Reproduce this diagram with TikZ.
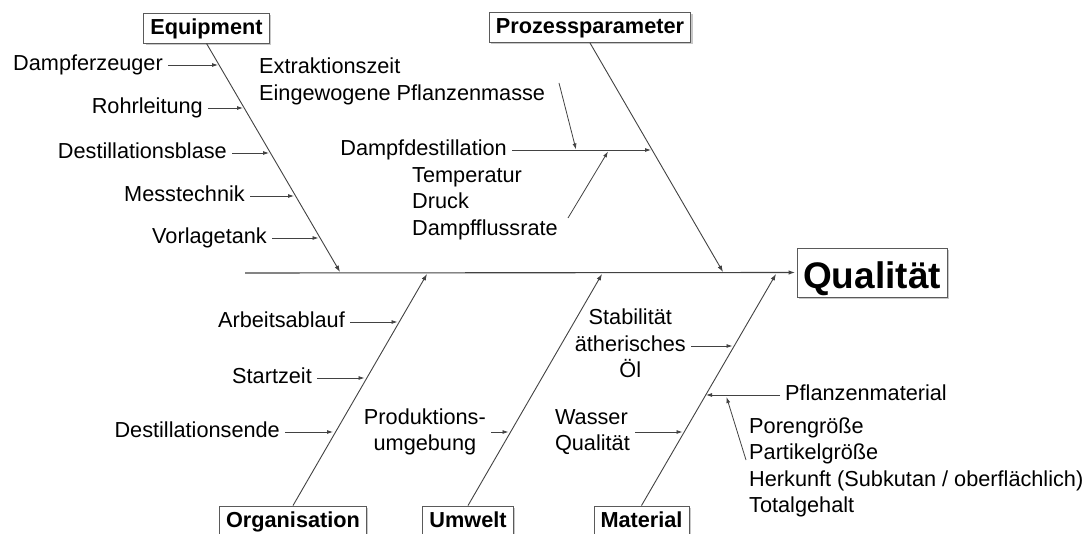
\documentclass[tikz,border=0pt]{standalone}
\usepackage{fontspec}
\setmainfont{Liberation Sans}
\usetikzlibrary{arrows.meta,shadows}
\definecolor{ln}{RGB}{66,66,66}
\definecolor{bx}{RGB}{90,90,90}
\definecolor{shd}{RGB}{200,200,200}
\tikzset{
  fs/.style={font=\fontsize{21.7}{26.5}\selectfont},
  bone/.style={draw=ln, line width=0.9pt, -{Latex[length=6.5pt,width=4.5pt]}},
  sub/.style={draw=ln, line width=0.8pt, -{Latex[length=6pt,width=4pt]}},
  lbl/.style={fs, inner xsep=5pt, inner ysep=0pt, text height=15.6pt, text depth=4.6pt},
  mlbl/.style={fs, inner xsep=5pt, inner ysep=0pt},
  cat/.style={draw=bx, line width=0.9pt, fill=white,
    font=\fontsize{21.7}{26}\selectfont\bfseries,
    inner xsep=6.5pt, inner ysep=0pt, minimum height=30pt,
    text height=16.5pt, text depth=4pt,
    drop shadow={shadow xshift=2pt, shadow yshift=-2pt, fill=shd, opacity=1}},
}
\begin{document}
\begin{tikzpicture}[x=1pt,y=-1pt]
\useasboundingbox (0,0) rectangle (1091,534);
\clip (0,0) rectangle (1091,534);

% effect
\node[cat, font=\fontsize{37}{40}\selectfont\bfseries, minimum width=150pt,
      minimum height=49pt, text height=31pt, text depth=0pt, inner xsep=5pt]
      (q) at (872,272.5) {Qualität};

% category boxes
\node[cat] (eq) at (206.5,28) {Equipment};
\node[cat] (pp) at (590,27.5) {Prozessparameter};
\node[cat] (org) at (293,521) {Organisation};
\node[cat] (umw) at (468,521) {Umwelt};
\node[cat] (mat) at (641.5,521) {Material};

% spine
\coordinate (s0) at (245,273);
\draw[bone, line width=1.1pt, shorten >=1.5pt] (s0) -- (q.west);

% bone tips on the spine
\coordinate (eqT) at (340,272);
\coordinate (ppT) at (723,272);
\coordinate (orgT) at (427,274);
\coordinate (umwT) at (602,274);
\coordinate (matT) at (776,274);

\draw[bone] (eq.south) -- (eqT);
\draw[bone] (pp.south) -- (ppT);
\draw[bone] (org.north) -- (orgT);
\draw[bone] (umw.north) -- (umwT);
\draw[bone] (mat.north) -- (matT);

% Equipment causes
\node[lbl, anchor=east] (e1) at (168,65) {Dampferzeuger};
\node[lbl, anchor=east] (e2) at (208,108) {Rohrleitung};
\node[lbl, anchor=east] (e3) at (232,153) {Destillationsblase};
\node[lbl, anchor=east] (e4) at (250,196) {Messtechnik};
\node[lbl, anchor=east] (e5) at (272,238) {Vorlagetank};
\coordinate (e1p) at (218,65);
\coordinate (e2p) at (243,108);
\coordinate (e3p) at (269,153);
\coordinate (e4p) at (294,196);
\coordinate (e5p) at (318.5,238);
\draw[sub] (e1.east) -- (e1p);
\draw[sub] (e2.east) -- (e2p);
\draw[sub] (e3.east) -- (e3p);
\draw[sub] (e4.east) -- (e4p);
\draw[sub] (e5.east) -- (e5p);

% Prozessparameter causes
\node[mlbl, anchor=west, align=left] (ext) at (254,81.5)
  {\strut Extraktionszeit\\Eingewogene Pflanzenmasse\strut};
\node[lbl, anchor=east] (dd) at (512,150) {Dampfdestillation};
\coordinate (ddp) at (651,150);
\draw[sub] (dd.east) -- (ddp);
\coordinate (extS) at (559,83);
\coordinate (extE) at (576,149.5);
\draw[sub] (extS) -- (extE);
\node[mlbl, anchor=west, align=left] (tdd) at (407,203.5)
  {\strut Temperatur\\Druck\\Dampfflussrate\strut};
\coordinate (tddS) at (568,218);
\coordinate (tddE) at (608,151.5);
\draw[sub] (tddS) -- (tddE);

% Organisation causes
\node[lbl, anchor=east] (o1) at (350,322) {Arbeitsablauf};
\node[lbl, anchor=east] (o2) at (317,378) {Startzeit};
\node[lbl, anchor=east] (o3) at (285,432) {Destillationsende};
\coordinate (o1p) at (397.5,322);
\coordinate (o2p) at (364.5,378);
\coordinate (o3p) at (333,432);
\draw[sub] (o1.east) -- (o1p);
\draw[sub] (o2.east) -- (o2p);
\draw[sub] (o3.east) -- (o3p);

% Umwelt causes
\node[mlbl, anchor=east, align=center] (u1) at (491,432)
  {\strut Produktions-\\umgebung\strut};
\coordinate (u1p) at (508.5,432);
\draw[sub] (u1.east) -- (u1p);

% Material causes
\node[mlbl, anchor=east, align=center] (m1) at (691,346)
  {\strut Stabilität\\ätherisches\\Öl\strut};
\coordinate (m1p) at (732.5,346);
\draw[sub] (m1.east) -- (m1p);
\node[mlbl, anchor=east, align=left] (m2) at (635,432)
  {\strut Wasser\\Qualität\strut};
\coordinate (m2p) at (682.5,432);
\draw[sub] (m2.east) -- (m2p);
\node[lbl, anchor=west] (m3) at (780,395) {Pflanzenmaterial};
\coordinate (m3p) at (706,395);
\draw[sub] (m3.west) -- (m3p);
\node[mlbl, anchor=west, align=left] (m4) at (744,467.5)
  {\strut Porengröße\\Partikelgröße\\Herkunft (Subkutan / oberflächlich)\\Totalgehalt\strut};
\coordinate (m4S) at (746,460);
\coordinate (m4E) at (726.5,397);
\draw[sub] (m4S) -- (m4E);
\end{tikzpicture}
\end{document}
